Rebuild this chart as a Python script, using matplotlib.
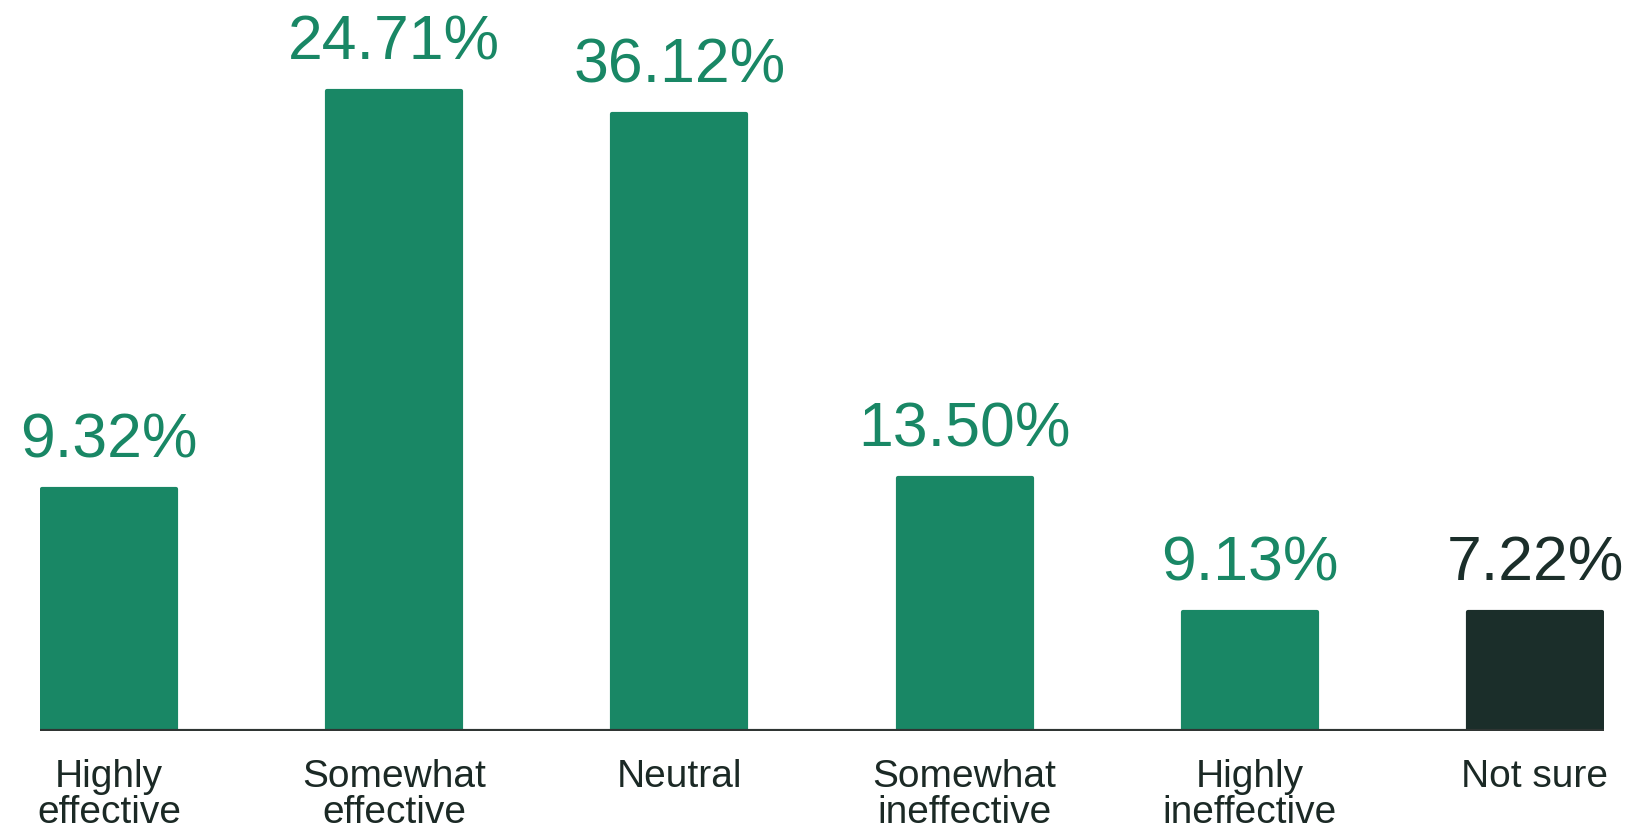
import matplotlib.pyplot as plt

# Data
categories = ['Highly\neffective', 'Somewhat\neffective', 'Neutral',
              'Somewhat\nineffective', 'Highly\nineffective', 'Not sure']
pct_labels = ['9.32%', '24.71%', '36.12%', '13.50%', '9.13%', '7.22%']
# bar heights as drawn in the picture (pixels above the baseline)
bar_heights = [242, 640, 617, 253, 119, 119]
bar_colors = ['#198765', '#198765', '#198765', '#198765', '#198765', '#1b2e2a']
label_colors = ['#198765', '#198765', '#198765', '#198765', '#198765', '#1b2e2a']

plt.rcParams['font.family'] = ['Liberation Sans', 'DejaVu Sans']

fig = plt.figure(figsize=(16.43, 8.35), dpi=100)
ax = fig.add_axes([40 / 1643, 104 / 835, 1564 / 1643, 731 / 835])

x = range(len(categories))
bars = ax.bar(x, bar_heights, width=0.47, color=bar_colors,
              edgecolor=bar_colors, linewidth=3, joinstyle='round', zorder=2)

# Value labels above bars
for bar, txt, col in zip(bars, pct_labels, label_colors):
    ax.annotate(txt, (bar.get_x() + bar.get_width() / 2, bar.get_height()),
                xytext=(0, 23), textcoords='offset points',
                ha='center', va='baseline', fontsize=45, color=col)

ax.set_xlim(-0.242, len(categories) - 1 + 0.242)
ax.set_ylim(0, 731)

# Baseline
ax.axhline(0, color='#2f3533', linewidth=3, zorder=3)

ax.set_xticks(list(x))
ax.set_xticklabels(categories, fontsize=28, color='#1b2925', linespacing=1.0)
ax.tick_params(axis='x', length=0, pad=20.5)
ax.set_yticks([])
for s in ax.spines.values():
    s.set_visible(False)

plt.savefig('out.png', dpi=100, facecolor='white')
